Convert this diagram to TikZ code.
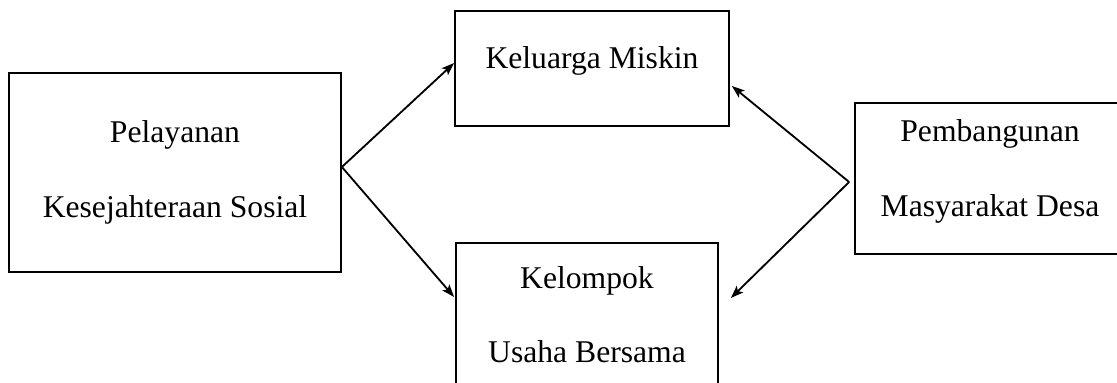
\documentclass[tikz,border=0pt]{standalone}
\usepackage{fontspec}
\setmainfont{Liberation Serif}
\usetikzlibrary{calc,arrows.meta}
\tikzset{
	kotak/.style={draw, line width=1.2pt, align=center, inner sep=0pt,
		font=\fontsize{22.5}{53}\selectfont},
	panah/.style={-{Stealth[length=9pt, width=6.5pt, inset=2pt]}, line width=1.3pt}
}

\begin{document}
\begin{tikzpicture}[x=0.025cm, y=-0.025cm]
		%%%%% START %%%%%
		
		\useasboundingbox (0, 0) rectangle (1117, 382);
		\clip (0, 0) rectangle (1117, 382);
		
		\node[kotak, minimum width=8.3cm, minimum height=4.975cm] (pel) at (175, 172.5) {Pelayanan\\Kesejahteraan Sosial};
		\node[kotak, minimum width=6.85cm, minimum height=2.875cm, text height=16pt, text depth=16pt] (kel) at (592, 68.5) {Keluarga Miskin};
		\node[kotak, minimum width=6.55cm, minimum height=3.575cm] (kub) at (587, 314.5) {Kelompok\\Usaha Bersama};
		\node[kotak, minimum width=6.75cm, minimum height=3.775cm, text depth=15pt] (pmd) at (990, 178.5) {Pembangunan\\Masyarakat Desa};
		
		\draw[panah] ($(pel.east)+(0, -5.5)$) -- ($(kel.west)+(0, -5.5)$);
		\draw[panah] ($(pel.east)+(0, -5.5)$) -- ($(kub.west)+(-1, -17.5)$);
		
		\draw[panah] ($(pmd.west)+(-5, 3.5)$) -- ($(kel.east)+(2, 17.5)$);
		\draw[panah] ($(pmd.west)+(-5, 3.5)$) -- ($(kub.east)+(12, -16.5)$);
		
		%%%%% END %%%%%
	\end{tikzpicture}
\end{document}
